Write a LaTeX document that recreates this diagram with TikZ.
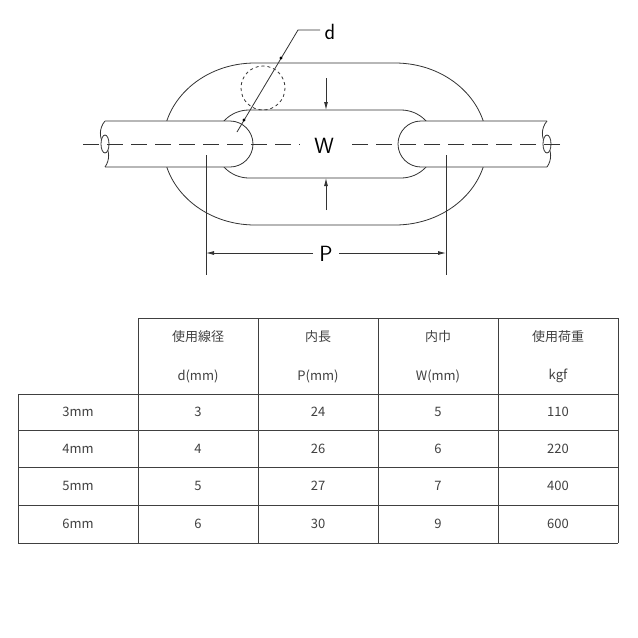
\documentclass[tikz,border=0pt]{standalone}
\usepackage{fontspec}
\setmainfont{Noto Sans CJK JP}
\usetikzlibrary{arrows.meta}
\begin{document}
\begin{tikzpicture}[x=1pt,y=-1pt,line width=0.8pt,
  ln/.style={draw=black!80},
  cell/.style={font=\fontsize{13}{15}\selectfont,text=black!75},
  arr/.style={-{Latex[length=8pt,width=4pt]}}]
\useasboundingbox (0,0) rectangle (638,638);
% outer link
\draw[ln] (255,63) -- (395,63) arc[start angle=-90,end angle=90,x radius=92,y radius=81] -- (255,225) arc[start angle=90,end angle=270,x radius=92,y radius=81];
% inner link
\draw[ln] (249,110) -- (401,110) arc[start angle=-90,end angle=90,radius=34] -- (249,178) arc[start angle=90,end angle=270,radius=34];
% bars
\draw[ln,fill=white] (105,121) -- (230,121) arc[start angle=-90,end angle=90,radius=23] -- (105,167);
\draw[ln,fill=white] (547,121) -- (421,121) arc[start angle=-90,end angle=-270,radius=23] -- (547,167);
\draw[ln,fill=white] (105,121) .. controls (99,128) and (99,138) .. (104,144) .. controls (110,150) and (110,160) .. (105,167);
\draw[ln,fill=white] (105,144) ellipse[x radius=4,y radius=9];
\draw[ln,fill=white] (547,121) .. controls (541,128) and (541,138) .. (546,144) .. controls (552,150) and (552,160) .. (547,167);
\draw[ln,fill=white] (547,144) ellipse[x radius=4,y radius=9];
% centerline
\draw[ln,line width=0.7pt,dash pattern=on 16pt off 8pt] (83,144) -- (300,144);
\draw[ln,line width=0.7pt,dash pattern=on 16pt off 8pt] (560,144) -- (350,144);
\node[font=\fontsize{22}{24}\selectfont\sffamily,fill=white,inner sep=4pt] (W) at (324,146) {W};
% dashed circle
\draw[ln,dashed] (263,88) circle[radius=22];
% d leader
\coordinate (d1) at (237,132);
\coordinate (d2) at (298,30);
\coordinate (d3) at (320,30);
\draw[ln] (d1) -- (d2) -- (d3);
\node[font=\fontsize{22}{24}\selectfont\sffamily,anchor=west] (d) at (321,32) {d};
\fill (244,120) circle[radius=1.6];
\fill (281,58) circle[radius=1.6];
% W arrows
\coordinate (wa) at (326,78); \coordinate (wb) at (326,110);
\coordinate (wc) at (326,210); \coordinate (wd) at (326,178);
\draw[ln,arr] (wa) -- (wb);
\draw[ln,arr] (wc) -- (wd);
% P dim
\draw[ln] (206,155) -- (206,275);
\draw[ln] (446,155) -- (446,275);
\node[font=\fontsize{22}{24}\selectfont\sffamily,inner sep=6pt] (P) at (326,254) {P};
\coordinate (pl) at (206,253); \coordinate (pr) at (446,253);
\draw[ln,arr] (P.west|-pl) -- (pl);
\draw[ln,arr] (P.east|-pr) -- (pr);
% table
\draw[black!75,line width=0.6pt] (138,318) -- (618,318);
\foreach \y in {394,430,467,505,543} \draw[black!75,line width=0.6pt] (18,\y) -- (618,\y);
\draw[black!75,line width=0.6pt] (18,394) -- (18,543);
\foreach \x in {138,258,378,498,618} \draw[black!75,line width=0.6pt] (\x,318) -- (\x,543);
\node[cell] (h1a) at (198,337) {使用線径}; \node[cell] (h1b) at (198,376) {d(mm)};
\node[cell] (h2a) at (318,337) {内長}; \node[cell] (h2b) at (318,376) {P(mm)};
\node[cell] (h3a) at (438,337) {内巾}; \node[cell] (h3b) at (438,376) {W(mm)};
\node[cell] (h4a) at (558,337) {使用荷重}; \node[cell] (h4b) at (558,376) {kgf};
\foreach \a/\b/\c/\d/\e/\y in {3mm/3/24/5/110/412,4mm/4/26/6/220/449,5mm/5/27/7/400/486,6mm/6/30/9/600/524}{
  \node[cell] at (78,\y) {\a};
  \node[cell] at (198,\y) {\b};
  \node[cell] at (318,\y) {\c};
  \node[cell] at (438,\y) {\d};
  \node[cell] at (558,\y) {\e};
}
\end{tikzpicture}
\end{document}
